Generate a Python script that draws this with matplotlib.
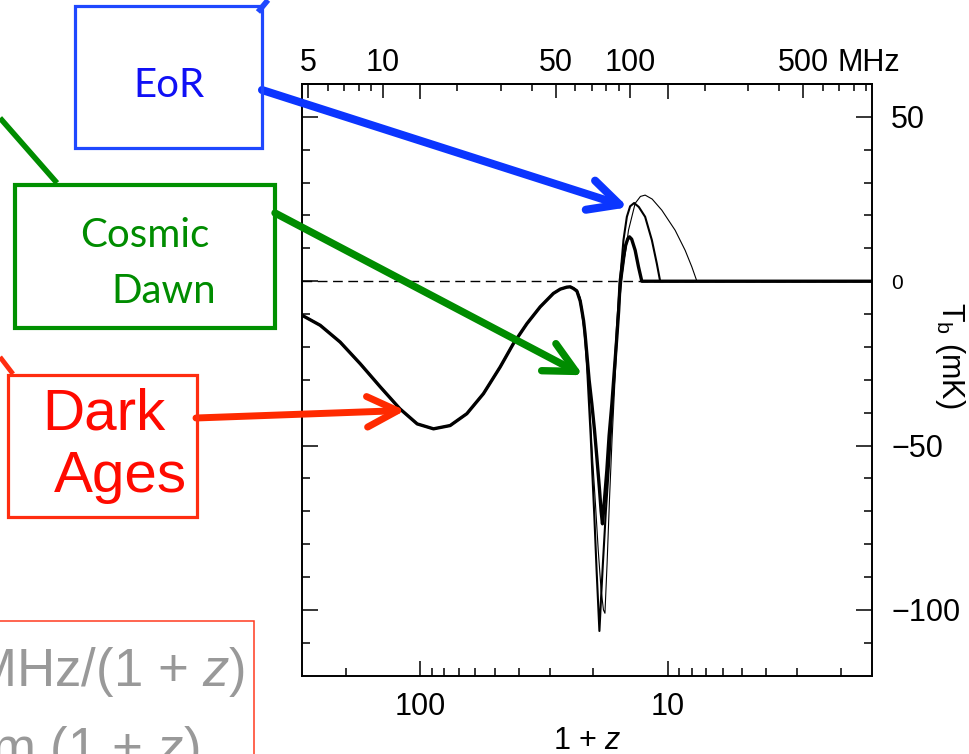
import numpy as np
import matplotlib

matplotlib.use("Agg")
import matplotlib.pyplot as plt
from matplotlib.patches import Rectangle
from matplotlib.lines import Line2D
from matplotlib.ticker import FixedLocator, NullFormatter

W, H = 969, 754
NU21 = 1420.4  # MHz

# dark ages part, shared by all models (1+z, T_b in mK)
zp1_dark = [300, 254, 211, 175, 145, 121, 103, 88.5, 75.8, 64.9, 55.6, 47.6,
            42.1, 37.1, 32.8, 29.0, 27.2, 25.6]
tb_dark = [-10.4, -13.4, -18.5, -25.1, -32.2, -38.8, -43.4, -44.9, -43.9, -40.3,
           -34.2, -26.1, -19.0, -12.9, -7.8, -3.7, -2.4, -1.8]

# model A (thick)
zp1_a = [24.8, 24.07, 23.3, 22.6, 22.26, 21.9, 21.6, 21.25, 20.8, 20.28, 19.8,
         19.36, 18.9, 18.6, 18.37, 18.1, 17.64, 17.27, 16.83, 16.48, 16.07, 15.8,
         15.58, 15.15, 14.8, 14.5, 14.29, 14.0, 13.55, 13.14, 12.74, 1.5]
tb_a = [-1.7, -2.2, -3.0, -6.0, -8.8, -12, -16, -22, -30, -37.3, -45, -53.5, -63,
        -70, -73.8, -68, -57.6, -47, -37.3, -28, -17, -9, 0, 7, 11, 13, 13.5, 12.8,
        9.4, 4.4, 0, 0]

# model B (medium)
zp1_b = [24.8, 24.07, 23.3, 22.6, 22.2, 21.8, 21.5, 21.2, 20.9, 20.5, 20.2, 19.8,
         19.4, 19.1, 18.9, 18.6, 18.3, 17.8, 17.25, 16.8, 16.4, 16.0, 15.6, 15.43,
         15.11, 14.64, 14.2, 13.68, 13.1, 12.35, 11.6, 11.08, 10.74, 1.5]
tb_b = [-1.7, -2.2, -3.0, -6, -9.5, -14, -19, -26, -35, -47, -58, -72, -88, -99,
        -106.4, -96, -86, -70, -55, -40, -26, -12, 0, 4.4, 12.5, 19.6, 22.8, 23.8,
        22.6, 19.6, 12.5, 5.4, 0, 0]

# model C (thin)
zp1_c = [24.8, 24.07, 23.3, 22.6, 22.2, 21.8, 21.5, 21.2, 20.9, 20.5, 20.1, 19.6,
         19.1, 18.6, 18.2, 17.95, 17.6, 17.2, 16.8, 16.4, 16.0, 15.6, 15.3, 14.97,
         14.42, 13.55, 12.9, 12.35, 11.57, 10.57, 9.34, 8.51, 8.0, 7.63, 1.5]
tb_c = [-1.6, -2.0, -2.6, -5, -8.5, -13, -17, -23, -32, -43, -55, -68, -82, -94,
        -100, -101, -86, -66, -48, -32, -17, -5, 1, 6.4, 15.5, 23.7, 25.8, 26.2,
        25.0, 21.6, 15.5, 9.4, 4.4, 0, 0]

zp1_major = [100, 10]
zp1_major_labels = ["100", "10"]
zp1_minor = [200, 90, 80, 70, 60, 50, 40, 30, 20, 9, 8, 7, 6, 5, 4, 3, 2]
freq_major = [5, 10, 50, 100, 500]
freq_labels = ["5", "10", "50", "100", "500"]
freq_minor = [6, 7, 8, 9, 20, 30, 40, 60, 70, 80, 90, 200, 300, 400, 600, 700, 800, 900]
tb_major = [-100, -50, 0, 50]
tb_labels = ["\u2212100", "\u221250", "0", "50"]
tb_minor = [-110, -90, -80, -70, -60, -40, -30, -20, -10, 10, 20, 30, 40]

# annotation targets (1+z, T_b)
eor_tip = (14.47, 22.5)
dawn_tip = (22.0, -28.6)
dark_tip = (115.0, -39.3)

plt.rcParams["font.family"] = ["Liberation Sans", "DejaVu Sans"]
plt.rcParams["mathtext.fontset"] = "custom"
plt.rcParams["mathtext.rm"] = "Liberation Sans"
plt.rcParams["mathtext.it"] = "Liberation Sans:italic"

fig = plt.figure(figsize=(W / 100, H / 100), dpi=100)
ax = fig.add_axes([302.3 / W, 1 - 675.7 / H, (871.7 - 302.3) / W, (675.7 - 84) / H])

ax.axhline(0, color="black", lw=1.0, ls=(0, (7, 4)), zorder=1)
ax.plot(zp1_dark + zp1_c, tb_dark + tb_c, color="black", lw=0.8, zorder=2)
ax.plot(zp1_dark + zp1_b, tb_dark + tb_b, color="black", lw=1.5, zorder=3)
ax.plot(zp1_dark + zp1_a, tb_dark + tb_a, color="black", lw=2.4, zorder=4,
        solid_joinstyle="round")

ax.set_xscale("log")
ax.set_xlim(300, 1.5)
ax.set_ylim(-120, 60)

ax.set_xticks(zp1_major, labels=zp1_major_labels)
ax.xaxis.set_minor_locator(FixedLocator(zp1_minor))
ax.xaxis.set_minor_formatter(NullFormatter())
ax.set_yticks(tb_major, labels=tb_labels)
ax.yaxis.set_minor_locator(FixedLocator(tb_minor))

ax.tick_params(axis="x", which="major", direction="in", length=11, width=1.1,
               top=True, labelsize=22, pad=12)
ax.tick_params(axis="x", which="minor", direction="in", length=5.5, width=1.1)
ax.tick_params(axis="y", which="both", direction="in", width=1.1, left=True, right=True,
               labelleft=False, labelright=True)
ax.tick_params(axis="y", which="major", length=11.5, labelsize=22, pad=14)
ax.tick_params(axis="y", which="minor", length=5.5)
for tick in ax.yaxis.get_major_ticks():
    if tick.get_loc() == 0:
        tick.label2.set_fontsize(15)

for sp in ax.spines.values():
    sp.set_linewidth(1.4)

secax = ax.secondary_xaxis("top", functions=(lambda u: NU21 / np.asarray(u),
                                             lambda f: NU21 / np.asarray(f)))
secax.set_xticks(freq_major, labels=freq_labels)
secax.xaxis.set_minor_locator(FixedLocator(freq_minor))
secax.xaxis.set_minor_formatter(NullFormatter())
secax.tick_params(which="major", direction="in", length=10, width=1.1, labelsize=22, pad=4)
secax.tick_params(which="minor", direction="in", length=5, width=1.1)
secax.spines["top"].set_linewidth(1.4)
ax.annotate("MHz", xy=(NU21 / 500, 1), xycoords=ax.get_xaxis_transform(),
            xytext=(25, 4), textcoords="offset points", ha="left", va="bottom",
            fontsize=22, annotation_clip=False)

ax.set_xlabel("1 + $z$", fontsize=22)
ax.xaxis.set_label_coords(0.5, -0.085)
ax.yaxis.set_label_position("right")
ax.set_ylabel(r"T$_{\rm b}$ (mK)", fontsize=22, rotation=270)
ax.yaxis.label.set_verticalalignment("center")
ax.yaxis.set_label_coords((950 - 302.3) / 569.4, (675.7 - 355) / 591.7)


def fig_box(x0, y0, x1, y1, color, lw):
    fig.add_artist(Rectangle((x0 / W, 1 - y1 / H), (x1 - x0) / W, (y1 - y0) / H,
                             transform=fig.transFigure, fill=False,
                             edgecolor=color, linewidth=lw))


def fig_line(x0, y0, x1, y1, color, lw):
    fig.add_artist(Line2D([x0 / W, x1 / W], [1 - y0 / H, 1 - y1 / H],
                          transform=fig.transFigure, color=color, lw=lw,
                          solid_capstyle="butt"))


def arrow(tip, x0, y0, color, lw):
    ax.annotate("", xy=tip, xycoords="data", xytext=(x0, H - y0),
                textcoords="figure pixels", annotation_clip=False, zorder=10,
                arrowprops=dict(arrowstyle="->,head_length=1.1,head_width=0.55",
                                color=color, lw=lw, shrinkA=0, shrinkB=0,
                                mutation_scale=20, capstyle="round",
                                joinstyle="round"))


blue, blue_box = "#1010f5", "#1f48ff"
green = "#008c00"
red, red_box = "#ff0a00", "#ff2d10"

# EoR
fig_line(258, 12, 268, 0, blue_box, 4)
fig_box(75, 6, 262, 148, blue_box, 2.3)
fig.text(169 / W, 1 - 97 / H, "EoR", family="Lato", fontsize=29, color=blue,
         ha="center", va="baseline")
arrow(eor_tip, 262, 90, "#0b35ff", 5.8)

# Cosmic Dawn
fig_line(0, 118, 57, 183, green, 4)
fig_box(15, 185, 275, 328, "#009000", 3.0)
fig.text(145 / W, 1 - 247 / H, "Cosmic", family="Lato", fontsize=29, color=green,
         ha="center", va="baseline")
fig.text(164 / W, 1 - 303 / H, "Dawn", family="Lato", fontsize=29, color=green,
         ha="center", va="baseline")
arrow(dawn_tip, 275, 213, green, 5.3)

# Dark Ages
fig_line(0, 357, 13, 374, red_box, 3.5)
fig_box(8, 375, 197, 517, red_box, 2.3)
fig.text(104 / W, 1 - 430 / H, "Dark", fontsize=42, color=red, ha="center", va="baseline")
fig.text(120 / W, 1 - 492 / H, "Ages", fontsize=42, color=red, ha="center", va="baseline")
arrow(dark_tip, 196, 418, "#ff2a00", 5.0)

# frequency / wavelength relations box (cut off at the figure edge)
fig_box(-10, 621, 254, 800, "#ff3b1f", 1.1)
fig.text(245 / W, 1 - 686 / H, "\u03bd = 1420 MHz/(1 + $z$)", fontsize=38,
         color="#999999", ha="right", va="baseline")
fig.text(199 / W, 1 - 765 / H, "\u03bb = 21 cm (1 + $z$)", fontsize=38,
         color="#999999", ha="right", va="baseline")

fig.savefig("out.png", dpi=100)
